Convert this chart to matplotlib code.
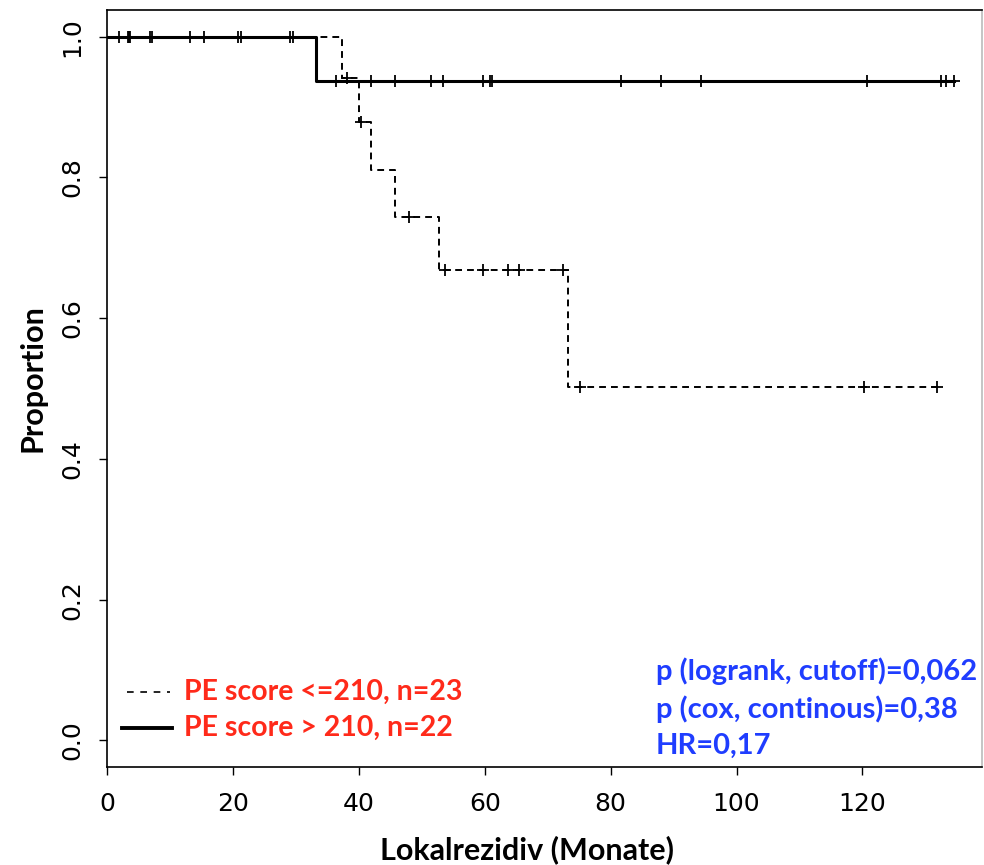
import numpy as np
import matplotlib.pyplot as plt

# Kaplan-Meier data, time in months
low_events = [37.4, 40.1, 42.0, 45.8, 52.8, 73.3]
low_censored = [3.3, 3.5, 6.8, 13.2, 20.8, 29.1, 38.2, 40.3, 47.9, 53.7, 59.7,
                63.7, 65.4, 72.5, 75.1, 120.2, 131.8]
high_events = [33.2]
high_censored = [1.85, 3.7, 7.2, 15.4, 21.3, 29.6, 36.4, 41.9, 45.8, 51.5, 53.4,
                 59.8, 60.8, 61.2, 81.7, 88.0, 94.3, 120.7, 132.5, 133.2, 134.6]

legend_labels = ["PE score <=210, n=23", "PE score > 210, n=22"]
stats_lines = ["p (logrank, cutoff)=0,062", "p (cox, continous)=0,38", "HR=0,17"]
x_ticks = [0, 20, 40, 60, 80, 100, 120]
y_ticks = [0.0, 0.2, 0.4, 0.6, 0.8, 1.0]

RED = "#ff2a1a"
BLUE = "#1f3dff"
TICK_FONT = ["Liberation Sans Narrow", "DejaVu Sans Condensed", "DejaVu Sans"]
LABEL_FONT = ["Lato", "DejaVu Sans"]


def kaplan_meier(events, censored):
    times = sorted(set(events) | set(censored))
    at_risk = len(events) + len(censored)
    s = 1.0
    xs, ys = [0.0], [1.0]
    cx, cy = [], []
    for t in times:
        d = events.count(t)
        c = censored.count(t)
        if d:
            s *= 1 - d / at_risk
        xs.append(t)
        ys.append(s)
        if c:
            cx += [t] * c
            cy += [s] * c
        at_risk -= d + c
    return xs, ys, cx, cy


fig = plt.figure(figsize=(9.84, 8.65), dpi=100)
ax = fig.add_axes([0.1087, 0.1133, 0.8893, 0.8751])

# dashed group
xs, ys, cx, cy = kaplan_meier(low_events, low_censored)
ax.step(xs, ys, where="post", color="black", lw=1.4, linestyle=(0, (3.5, 2.6)))
ax.plot(cx, cy, "+", color="black", ms=9, mew=1.3)

# solid group
xs, ys, cx, cy = kaplan_meier(high_events, high_censored)
ax.step(xs, ys, where="post", color="black", lw=2.2)
ax.plot(cx, cy, "+", color="black", ms=9, mew=1.3)

ax.set_xlim(0, 139)
ax.set_ylim(-0.038, 1.038)
ax.set_xticks(x_ticks)
ax.set_yticks(y_ticks)
ax.set_xticklabels([str(v) for v in x_ticks], family=TICK_FONT, fontsize=18)
ax.set_yticklabels([f"{v:.1f}" for v in y_ticks], family=TICK_FONT, fontsize=18,
                   rotation=90, va="center")
ax.tick_params(direction="out", length=6, width=1)
ax.tick_params(axis="x", pad=12)
ax.tick_params(axis="y", pad=10)
for sp in ax.spines.values():
    sp.set_linewidth(1.2)
ax.spines["right"].set_color("#bbbbbb")

ax.set_xlabel("Lokalrezidiv (Monate)", family=LABEL_FONT, fontweight="bold",
              fontsize=22)
ax.set_ylabel("Proportion", family=LABEL_FONT, fontweight="bold", fontsize=22)
ax.xaxis.set_label_coords(0.48, -0.09)
ax.yaxis.set_label_coords(-0.069, 0.514)

# legend, drawn by hand in axes coordinates
ax.plot([0.023, 0.072], [0.099, 0.099], transform=ax.transAxes, color="black",
        lw=1.2, linestyle=(0, (4, 4)))
ax.plot([0.017, 0.074], [0.0515, 0.0515], transform=ax.transAxes, color="black",
        lw=2.8)
for y, lab in zip([0.099, 0.0515], legend_labels):
    ax.text(0.088, y, lab, transform=ax.transAxes, color=RED, family=LABEL_FONT,
            fontweight="bold", fontsize=20.5, va="center", ha="left")

for y, line in zip([0.127, 0.0766, 0.0277], stats_lines):
    ax.text(0.627, y, line, transform=ax.transAxes, color=BLUE,
            family=LABEL_FONT, fontweight="bold", fontsize=21, va="center",
            ha="left")

fig.savefig("out.png", dpi=100)
